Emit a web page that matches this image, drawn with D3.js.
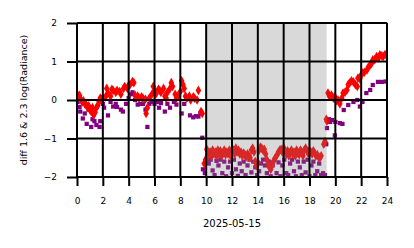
<!DOCTYPE html>
<html>
<head>
<meta charset="utf-8">
<script src="https://cdn.jsdelivr.net/npm/d3@7"></script>
<style>
  body { margin: 0; background: #fff; }
  svg { display: block; font-family: "DejaVu Sans", sans-serif; }
</style>
</head>
<body>
<svg id="chart" width="414" height="248"></svg>
<script>
// hour of day and value, red diamonds (1.6 um)
var redHours = [0.0,0.1,0.2,0.3,0.4,0.5,0.6,0.7,0.8,0.9,1.0,1.1,1.2,1.3,1.4,1.5,1.6,1.7,1.8,1.9,2.0,2.2,2.3,2.4,2.6,2.7,2.8,3.0,3.1,3.3,3.4,3.6,3.7,3.9,4.0,4.1,4.3,4.4,4.5,4.7,4.8,5.0,5.1,5.3,5.35,5.45,5.6,5.8,5.9,6.0,6.1,6.3,6.4,6.5,6.7,6.8,6.9,7.0,7.2,7.3,7.4,7.6,7.7,7.8,8.0,8.1,8.2,8.3,8.4,8.5,8.7,8.8,9.0,9.1,9.3,9.4,9.6,9.7,
  9.85,9.95,10.05,10.15,10.3,10.4,10.5,10.6,10.7,10.8,10.9,11.0,11.1,11.2,11.3,11.4,11.5,11.6,11.7,11.8,11.9,12.0,12.1,12.2,12.3,12.4,12.5,12.6,12.7,12.8,12.9,13.0,13.1,13.2,13.3,13.4,13.5,13.6,13.7,13.8,13.9,14.0,14.1,14.2,14.3,14.4,14.5,14.6,14.7,14.8,14.9,15.0,15.1,15.2,15.35,15.5,15.6,15.7,15.8,15.9,16.0,16.1,16.2,16.3,16.4,16.5,16.6,16.7,16.8,16.9,17.0,17.1,17.2,17.3,17.4,17.5,17.6,17.7,17.8,17.9,18.0,18.1,18.2,18.3,18.4,18.5,18.6,18.7,18.8,18.9,19.1,19.2,
  19.3,19.35,19.43,19.55,19.7,19.85,19.97,20.1,20.2,20.35,20.5,20.6,20.75,20.9,21.0,21.1,21.25,21.4,21.55,21.7,21.75,21.9,22.0,22.1,22.25,22.45,22.55,22.7,22.8,22.9,23.05,23.2,23.35,23.45,23.6,23.7,23.85];
var redValues = [0.15,0.1,0.12,0.02,-0.05,-0.02,-0.1,-0.12,-0.18,-0.15,-0.25,-0.3,-0.2,-0.38,-0.32,-0.2,-0.15,-0.05,0.05,0.02,0.05,0.08,0.3,0.18,0.1,0.28,0.25,0.2,0.25,0.22,0.15,0.3,0.35,0.3,0.38,0.4,0.48,0.45,0.12,0.1,0.05,0.08,0.05,0.02,-0.35,-0.2,0.05,0.15,0.35,0.25,0.15,0.28,0.25,0.2,0.3,0.1,0.05,0.2,0.3,0.45,0.35,0.15,0.05,0.1,0.22,0.5,0.4,0.3,0.1,0.05,0.1,0.0,0.08,0.05,0.0,0.25,-0.3,-0.35,
  -1.65,-1.55,-1.28,-1.45,-1.35,-1.45,-1.3,-1.4,-1.35,-1.45,-1.3,-1.4,-1.32,-1.45,-1.38,-1.3,-1.42,-1.35,-1.4,-1.3,-1.45,-1.35,-1.3,-1.4,-1.25,-1.35,-1.3,-1.4,-1.35,-1.45,-1.38,-1.42,-1.48,-1.4,-1.45,-1.5,-1.3,-1.25,-1.35,-1.6,-1.7,-1.62,-1.3,-1.22,-1.25,-1.3,-1.28,-1.4,-1.55,-1.65,-1.75,-1.8,-1.7,-1.6,-1.5,-1.42,-1.35,-1.3,-1.28,-1.35,-1.25,-1.3,-1.4,-1.32,-1.45,-1.35,-1.3,-1.4,-1.35,-1.45,-1.3,-1.38,-1.42,-1.3,-1.35,-1.45,-1.3,-1.25,-1.32,-1.38,-1.3,-1.35,-1.4,-1.32,-1.38,-1.45,-1.42,-1.48,-1.5,-1.45,-1.15,-1.08,
  -0.5,-0.55,0.18,0.1,0.13,0.05,0.08,-0.02,0.0,-0.1,0.05,0.18,0.2,0.26,0.4,0.44,0.5,0.47,0.4,0.35,0.57,0.55,0.65,0.7,0.72,0.78,0.85,0.91,0.95,1.04,1.05,1.13,1.1,1.17,1.15,1.13,1.18];

// purple squares (2.3 um)
var purpleHours = [0.05,0.2,0.25,0.45,0.6,0.75,0.9,1.1,1.2,1.35,1.5,1.75,1.8,2.0,2.1,2.4,2.6,2.8,3.0,3.1,3.4,3.55,3.8,4.0,4.2,4.3,4.5,4.7,4.9,5.1,5.3,5.45,5.6,5.8,6.0,6.2,6.35,6.5,6.8,7.0,7.2,7.5,7.7,8.1,8.3,8.5,8.75,9.0,9.2,9.4,9.55,9.7,9.75,
  9.9,10.05,10.2,10.35,10.5,10.65,10.8,10.95,11.1,11.25,11.4,11.55,11.7,11.85,12.0,12.15,12.3,12.45,12.6,12.75,12.9,13.05,13.2,13.35,13.5,13.65,13.8,13.95,14.1,14.25,14.4,14.55,14.7,14.85,15.0,15.15,15.3,15.45,15.6,15.75,15.9,16.05,16.2,16.35,16.5,16.65,16.8,16.95,17.1,17.25,17.4,17.55,17.7,17.85,18.0,18.15,18.3,18.45,18.6,18.75,18.9,19.05,19.2,
  19.3,19.35,19.5,19.6,19.75,19.96,20.0,20.35,20.55,20.65,21.0,21.4,21.7,21.9,22.1,22.4,22.7,22.9,23.3,23.6,23.9];
var purpleValues = [-0.05,-0.18,-0.3,-0.48,-0.35,-0.62,-0.25,-0.7,-0.5,-0.55,-0.65,-0.7,-0.55,-0.1,-0.2,-0.4,-0.05,-0.17,-0.1,-0.18,-0.25,-0.3,-0.1,0.05,0.15,0.2,0.0,-0.12,-0.1,-0.1,-0.25,-0.7,-0.1,-0.05,-0.1,-0.05,-0.2,-0.08,-0.3,-0.1,-0.2,-0.05,-0.12,-0.35,-0.1,0.08,-0.4,-0.45,-0.42,-0.43,-0.35,-0.98,-1.8,
  -1.9,-1.6,-1.65,-1.55,-1.83,-1.95,-1.58,-1.7,-1.55,-1.9,-1.6,-1.98,-1.75,-1.6,-1.9,-1.55,-1.8,-1.97,-1.65,-1.85,-1.6,-1.95,-1.7,-1.55,-1.88,-1.6,-1.75,-1.95,-1.85,-1.65,-1.55,-1.7,-1.9,-1.6,-1.98,-1.7,-1.55,-1.9,-1.62,-1.98,-1.7,-1.55,-1.9,-1.95,-1.65,-1.55,-1.85,-1.98,-1.6,-1.75,-1.95,-1.6,-1.88,-1.55,-1.98,-1.7,-1.6,-1.95,-1.85,-1.65,-1.95,-1.9,-1.95,
  -1.15,-0.73,-0.5,-0.57,-0.52,-0.92,-0.57,-0.6,-0.62,-0.26,-0.13,-0.05,0.0,-0.17,-0.05,0.18,0.26,0.39,0.47,0.47,0.48];

var xTicks = [0, 2, 4, 6, 8, 10, 12, 14, 16, 18, 20, 22, 24];
var yTicks = [-2, -1, 0, 1, 2];
var nightSpan = [10, 19.33];
var xLabel = "2025-05-15";
var yLabel = "diff 1.6 & 2.3  log(Radiance)";

var plotLeft = 77, plotRight = 387, plotTop = 23, plotBottom = 177;

var svg = d3.select("#chart");
var x = d3.scaleLinear().domain([0, 24]).range([plotLeft, plotRight]);
var y = d3.scaleLinear().domain([-2, 2]).range([plotBottom, plotTop]);

var plot = svg.append("g");
plot.append("clipPath")
    .attr("id", "clip")
  .append("rect")
    .attr("x", plotLeft).attr("y", plotTop)
    .attr("width", plotRight - plotLeft).attr("height", plotBottom - plotTop);

function drawPoints () {
  var pts = plot.append("g").attr("clip-path", "url(#clip)");
  pts.selectAll("path.purple")
    .data(d3.range(purpleHours.length))
    .enter().append("path")
      .attr("class", "purple")
      .attr("d", d3.symbol().type(d3.symbolSquare).size(18))
      .attr("transform", function (i) { return "translate(" + x(purpleHours[i]) + "," + y(purpleValues[i]) + ")"; })
      .attr("fill", "#800080");
  pts.selectAll("path.red")
    .data(d3.range(redHours.length))
    .enter().append("path")
      .attr("class", "red")
      .attr("d", d3.symbol().type(d3.symbolDiamond).size(27))
      .attr("transform", function (i) { return "translate(" + x(redHours[i]) + "," + y(redValues[i]) + ")"; })
      .attr("fill", "#ff0000");
}

function drawShade () {
  plot.append("rect")
    .attr("x", x(nightSpan[0]))
    .attr("y", plotTop)
    .attr("width", x(nightSpan[1]) - x(nightSpan[0]))
    .attr("height", plotBottom - plotTop)
    .attr("fill", "#808080")
    .attr("opacity", 0.3);
}

function drawAxes () {
  // light frame
  plot.append("rect")
    .attr("x", plotLeft + 0.5).attr("y", plotTop - 0.5)
    .attr("width", plotRight - plotLeft).attr("height", plotBottom - plotTop + 1)
    .attr("fill", "none").attr("stroke", "#d0d0d0").attr("stroke-width", 1);

  var xAxis = svg.append("g")
    .attr("transform", "translate(0," + plotBottom + ")")
    .call(d3.axisBottom(x).tickValues(xTicks).tickSize(9).tickPadding(12).tickFormat(d3.format("d")));
  var yAxis = svg.append("g")
    .attr("transform", "translate(" + plotLeft + ",0)")
    .call(d3.axisLeft(y).tickValues(yTicks).tickSize(10).tickPadding(10).tickFormat(function (d) { return d < 0 ? "\u2212" + Math.abs(d) : d; }));

  [xAxis, yAxis].forEach(function (a) {
    a.select(".domain").remove();
    a.selectAll("line").attr("stroke", "#000").attr("stroke-width", 2);
    a.selectAll("text").attr("fill", "#000").attr("font-size", "9px").attr("font-family", "DejaVu Sans");
  });

  // gridlines
  plot.selectAll("line.vgrid")
    .data(xTicks).enter().append("line")
      .attr("class", "vgrid")
      .attr("x1", function (d) { return x(d); }).attr("x2", function (d) { return x(d); })
      .attr("y1", plotTop).attr("y2", plotBottom)
      .attr("stroke", "#000").attr("stroke-width", 2);
  plot.selectAll("line.hgrid")
    .data(yTicks).enter().append("line")
      .attr("class", "hgrid")
      .attr("x1", plotLeft).attr("x2", plotRight)
      .attr("y1", function (d) { return y(d); }).attr("y2", function (d) { return y(d); })
      .attr("stroke", "#000").attr("stroke-width", 2);

  svg.append("text")
    .attr("x", (plotLeft + plotRight) / 2)
    .attr("y", 227)
    .attr("text-anchor", "middle")
    .attr("font-size", "10px")
    .text(xLabel);
  svg.append("text")
    .attr("transform", "translate(27," + (plotTop + plotBottom) / 2 + ") rotate(-90)")
    .attr("text-anchor", "middle")
    .attr("font-size", "9.5px")
    .text(yLabel);
}

drawPoints();
drawShade();
drawAxes();
</script>
</body>
</html>
